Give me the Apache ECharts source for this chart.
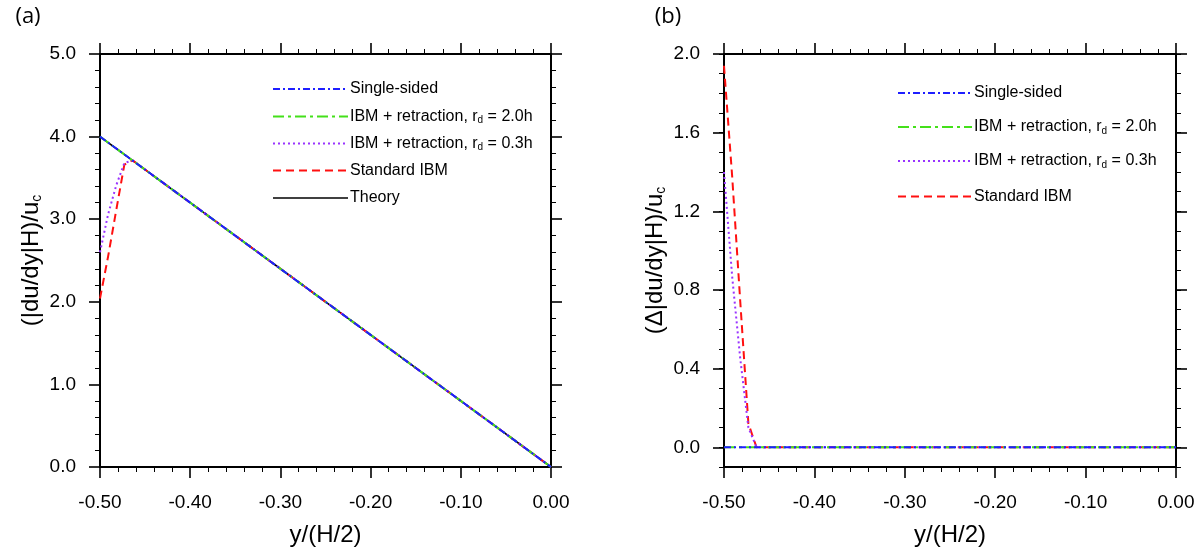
<!DOCTYPE html>
<html>
<head>
<meta charset="utf-8">
<script src="https://cdn.jsdelivr.net/npm/echarts@6/dist/echarts.min.js"></script>
<style>
html,body{margin:0;padding:0;background:#fff;}
#chart{width:1201px;height:552px;}
</style>
</head>
<body>
<div id="chart"></div>
<script>
// ---------------- data ----------------
const yPos = [-0.5, -0.491, -0.482, -0.473, -0.464, -0.4, -0.3, -0.2, -0.1, 0.0];

// panel (a): (|du/dy|H)/u_c
const theoryA      = [4.0, 3.928, 3.856, 3.784, 3.712, 3.2, 2.4, 1.6, 0.8, 0.0];
const singleSidedA = [4.0, 3.928, 3.856, 3.784, 3.712, 3.2, 2.4, 1.6, 0.8, 0.0];
const ibmRd20A     = [4.0, 3.928, 3.856, 3.784, 3.712, 3.2, 2.4, 1.6, 0.8, 0.0];
const ibmRd03A     = [2.60, 3.06, 3.41, 3.68, 3.712, 3.2, 2.4, 1.6, 0.8, 0.0];
const standardA    = [2.04, 2.55, 3.11, 3.66, 3.712, 3.2, 2.4, 1.6, 0.8, 0.0];

// panel (b): (Δ|du/dy|H)/u_c
const singleSidedB = [0, 0, 0, 0, 0, 0, 0, 0, 0, 0];
const ibmRd20B     = [0, 0, 0, 0, 0, 0, 0, 0, 0, 0];
const ibmRd03B     = [1.40, 0.87, 0.45, 0.10, 0, 0, 0, 0, 0, 0];
const standardB    = [1.94, 1.38, 0.74, 0.12, 0, 0, 0, 0, 0, 0];

const xTicks  = [-0.5, -0.4, -0.3, -0.2, -0.1, 0.0];
const yTicksA = [0, 1, 2, 3, 4, 5];
const yTicksB = [0, 0.4, 0.8, 1.2, 1.6, 2.0];

const seriesNames = ['Single-sided', 'IBM + retraction, rd = 2.0h', 'IBM + retraction, rd = 0.3h', 'Standard IBM', 'Theory'];
const legendTexts = [
  '{m|Single-sided}',
  '{m|IBM + retraction, r}{s|d}{m| = 2.0h}',
  '{m|IBM + retraction, r}{s|d}{m| = 0.3h}',
  '{m|Standard IBM}',
  '{m|Theory}'
];

// ---------------- styles ----------------
const FONT = 'Liberation Sans, Arial, Helvetica, sans-serif';
const styles = {
  'Single-sided': {color: '#1f1fff', width: 2, dash: [7, 3, 2, 3]},
  'IBM + retraction, rd = 2.0h': {color: '#44e01a', width: 2, dash: [11, 4, 3, 4]},
  'IBM + retraction, rd = 0.3h': {color: '#9933ff', width: 2, dash: [2, 3]},
  'Standard IBM': {color: '#ff1010', width: 2, dash: [8, 5]},
  'Theory': {color: '#000000', width: 1.6, dash: 'solid'}
};

const pairs = arr => yPos.map((x, i) => [x, arr[i]]);

function mkSeries(name, arr, gi) {
  const s = styles[name];
  return {
    name: name, type: 'line', data: pairs(arr),
    xAxisIndex: gi === 0 ? 0 : 2,
    yAxisIndex: gi === 0 ? 0 : 2,
    showSymbol: false, symbol: 'none', animation: false,
    lineStyle: {color: s.color, width: s.width, type: s.dash},
    emphasis: {disabled: true}
  };
}

const lineBlack = {show: true, onZero: false, lineStyle: {color: '#000', width: 2}};
const tickMajor = {show: true, inside: false, length: 11, lineStyle: {color: '#000', width: 1.6}};
const minorT = {show: true, splitNumber: 5, length: 5, lineStyle: {color: '#000', width: 1}};
const labelStyle = {color: '#000', fontSize: 19, fontFamily: FONT};

function xAxisDef(gi, pos, withLabels) {
  const a = {
    type: 'value', gridIndex: gi, position: pos, min: -0.5, max: 0, interval: 0.1,
    axisLine: lineBlack, axisTick: tickMajor, minorTick: minorT,
    splitLine: {show: false}, minorSplitLine: {show: false},
    axisLabel: withLabels ? Object.assign({margin: 26, formatter: v => v.toFixed(2)}, labelStyle) : {show: false}
  };
  if (withLabels) {
    a.name = 'y/(H/2)';
    a.nameLocation = 'middle';
    a.nameGap = 56;
    a.nameTextStyle = {color: '#000', fontSize: 24, fontFamily: FONT};
  }
  return a;
}

const titleRich = {
  m: {fontSize: 24, fontFamily: FONT, color: '#000', lineHeight: 26},
  s: {fontSize: 14, fontFamily: FONT, color: '#000', verticalAlign: 'bottom', lineHeight: 14}
};

const yAxes = [
  // grid 0 left
  {type: 'value', gridIndex: 0, position: 'left', min: 0, max: 5, interval: 1,
   axisLine: lineBlack, axisTick: tickMajor, minorTick: minorT,
   splitLine: {show: false}, minorSplitLine: {show: false},
   axisLabel: Object.assign({margin: 24, formatter: v => v.toFixed(1)}, labelStyle),
   name: '{m|(|du/dy|H)/u}{s|c}', nameLocation: 'middle', nameGap: 56, nameRotate: 90,
   nameTextStyle: {rich: titleRich}},
  // grid 0 right
  {type: 'value', gridIndex: 0, position: 'right', min: 0, max: 5, interval: 1,
   axisLine: lineBlack, axisTick: tickMajor, minorTick: minorT,
   splitLine: {show: false}, minorSplitLine: {show: false}, axisLabel: {show: false}},
  // grid 1 left (major)
  {type: 'value', gridIndex: 1, position: 'left', min: -0.1, max: 2.0, interval: 0.1,
   axisLine: lineBlack,
   axisTick: Object.assign({customValues: yTicksB}, tickMajor),
   splitLine: {show: false},
   axisLabel: Object.assign({margin: 24, customValues: yTicksB, formatter: v => v.toFixed(1)}, labelStyle),
   name: '{m|(Δ|du/dy|H)/u}{s|c}', nameLocation: 'middle', nameGap: 56, nameRotate: 90,
   nameTextStyle: {rich: titleRich}},
  // grid 1 right (major)
  {type: 'value', gridIndex: 1, position: 'right', min: -0.1, max: 2.0, interval: 0.1,
   axisLine: lineBlack,
   axisTick: Object.assign({customValues: yTicksB}, tickMajor),
   splitLine: {show: false}, axisLabel: {show: false}},
  // grid 1 left minor
  {type: 'value', gridIndex: 1, position: 'left', min: -0.1, max: 2.0, interval: 0.1,
   axisLine: {show: false, onZero: false},
   axisTick: {show: true, length: 5, lineStyle: {color: '#000', width: 1}},
   splitLine: {show: false}, axisLabel: {show: false}},
  // grid 1 right minor
  {type: 'value', gridIndex: 1, position: 'right', min: -0.1, max: 2.0, interval: 0.1,
   axisLine: {show: false, onZero: false},
   axisTick: {show: true, length: 5, lineStyle: {color: '#000', width: 1}},
   splitLine: {show: false}, axisLabel: {show: false}}
];

const seriesList = [
  mkSeries('Theory', theoryA, 0),
  mkSeries('Standard IBM', standardA, 0),
  mkSeries('IBM + retraction, rd = 0.3h', ibmRd03A, 0),
  mkSeries('IBM + retraction, rd = 2.0h', ibmRd20A, 0),
  mkSeries('Single-sided', singleSidedA, 0),
  mkSeries('Standard IBM', standardB, 1),
  mkSeries('IBM + retraction, rd = 0.3h', ibmRd03B, 1),
  mkSeries('IBM + retraction, rd = 2.0h', ibmRd20B, 1),
  mkSeries('Single-sided', singleSidedB, 1)
];

// ---------------- legends (drawn as graphics) ----------------
const legendRich = {
  m: {fontSize: 16, fontFamily: FONT, fill: '#000', lineHeight: 18},
  s: {fontSize: 10, fontFamily: FONT, fill: '#000', verticalAlign: 'bottom', lineHeight: 10}
};
function legendGroup(x0, x1, ys, count) {
  const children = [];
  for (let i = 0; i < count; i++) {
    const st = styles[seriesNames[i]];
    children.push({
      type: 'line', shape: {x1: x0, y1: ys[i], x2: x1, y2: ys[i]},
      style: {stroke: st.color, lineWidth: st.width, lineDash: st.dash === 'solid' ? null : st.dash}
    });
    children.push({
      type: 'text', x: x1 + 2, y: ys[i],
      style: {text: legendTexts[i], rich: legendRich, verticalAlign: 'middle', align: 'left', fill: '#000'}
    });
  }
  return {type: 'group', children: children};
}

const option = {
  backgroundColor: '#fff',
  animation: false,
  grid: [
    {left: 100, top: 54, width: 451, height: 413},
    {left: 724, top: 54, width: 452, height: 414}
  ],
  xAxis: [
    xAxisDef(0, 'bottom', true), xAxisDef(0, 'top', false),
    xAxisDef(1, 'bottom', true), xAxisDef(1, 'top', false)
  ],
  yAxis: yAxes,
  series: seriesList,
  graphic: [
    legendGroup(273, 348, [89, 116.5, 143.5, 170.5, 198], 5),
    legendGroup(898, 972, [93, 127, 161, 196.5], 4),
    {type: 'text', x: 28, y: 17, style: {text: '(a)', font: '22px "Open Sans", sans-serif', fill: '#000', align: 'center', verticalAlign: 'middle'}},
    {type: 'text', x: 668, y: 17, style: {text: '(b)', font: '22px "Open Sans", sans-serif', fill: '#000', align: 'center', verticalAlign: 'middle'}}
  ]
};

const chart = echarts.init(document.getElementById('chart'), null, {renderer: 'canvas'});
chart.setOption(option);
</script>
</body>
</html>
